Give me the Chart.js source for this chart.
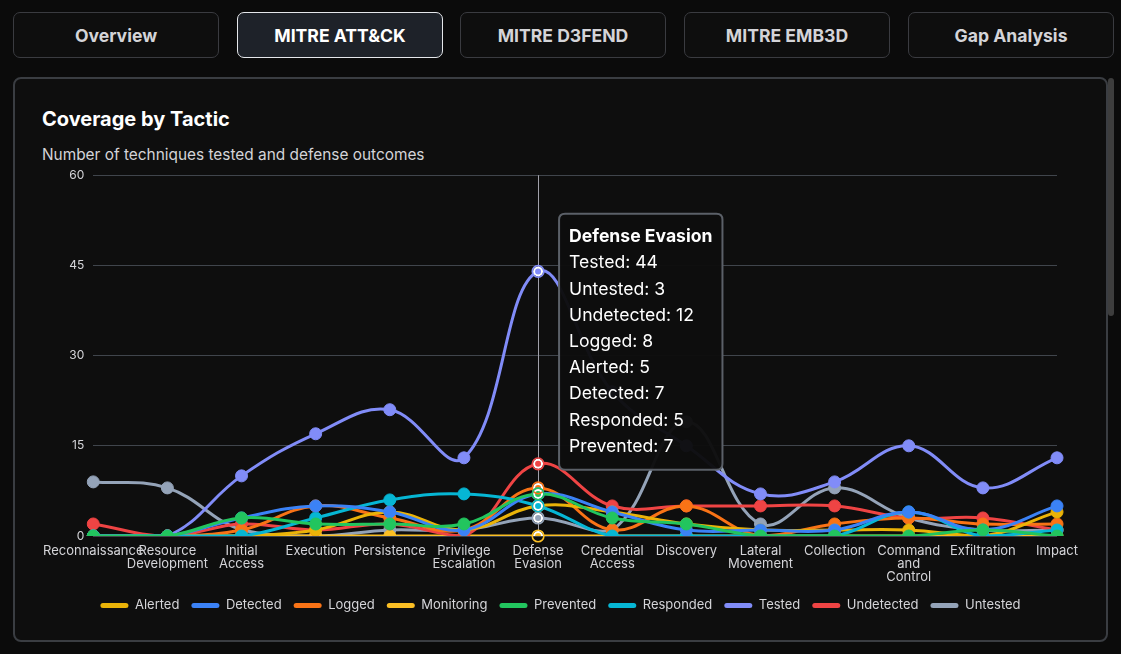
<!DOCTYPE html>
<html><head><meta charset="utf-8">
<script src="https://cdn.jsdelivr.net/npm/chart.js@4.4.1/dist/chart.umd.min.js"></script>
<style>
html,body{margin:0;padding:0;background:#0b0b0b;width:1121px;height:654px;overflow:hidden;font-family:Inter,"Noto Sans",sans-serif;}
.tab{position:absolute;top:12px;height:46px;width:206px;box-sizing:border-box;border:1px solid #3a3b40;border-radius:7px;background:#0e0e0e;color:#d4d4d8;font-weight:700;font-size:17.6px;display:flex;align-items:center;justify-content:center;}
.tab.active{background:#1e2229;border-color:#e5e7eb;color:#ffffff;}
.card{position:absolute;left:13px;top:77px;width:1095px;height:565px;box-sizing:border-box;border:2px solid #3a3d42;border-radius:8px;background:#0e0e0e;}
.title{position:absolute;left:42px;top:107px;color:#ffffff;font-weight:700;font-size:20px;}
.sub{position:absolute;left:42px;top:145px;color:#d4d4d8;font-size:15.4px;}
.thumb{position:absolute;left:1108px;top:78px;width:6px;height:238px;border-radius:3px;background:#3d3d3d;}
#wrap{position:absolute;left:34px;top:159px;width:1053px;height:463px;}
</style></head>
<body>
<div class="tab" style="left:13px">Overview</div>
<div class="tab active" style="left:237px">MITRE ATT&amp;CK</div>
<div class="tab" style="left:460px">MITRE D3FEND</div>
<div class="tab" style="left:684px">MITRE EMB3D</div>
<div class="tab" style="left:908px">Gap Analysis</div>
<div class="card"></div>
<div class="thumb"></div>
<div class="title">Coverage by Tactic</div>
<div class="sub">Number of techniques tested and defense outcomes</div>
<div id="wrap"><canvas id="c"></canvas></div>
<script>
const categories = ["Reconnaissance","Resource Development","Initial Access","Execution","Persistence","Privilege Escalation","Defense Evasion","Credential Access","Discovery","Lateral Movement","Collection","Command and Control","Exfiltration","Impact"];
const tested     = [0, 0, 10, 17, 21, 13, 44, 24, 15, 7, 9, 15, 8, 13];
const untested   = [9, 8, 1, 0, 1, 1, 3, 1, 19, 2, 8, 3, 1, 1];
const undetected = [2, 0, 2, 1, 2, 0, 12, 5, 5, 5, 5, 3, 3, 1];
const logged     = [0, 0, 1, 5, 3, 1, 8, 1, 5, 0, 2, 3, 2, 2];
const alerted    = [0, 0, 0, 1, 4, 1, 5, 4, 2, 1, 1, 1, 0, 4];
const detected   = [0, 0, 3, 5, 4, 1, 7, 4, 1, 1, 1, 4, 1, 5];
const responded  = [0, 0, 0, 3, 6, 7, 5, 0, 0, 0, 0, 4, 0, 1];
const prevented  = [0, 0, 3, 2, 2, 2, 7, 3, 2, 0, 0, 0, 1, 0];
const monitoring = [0, 0, 0, 0, 0, 0, 0, 0, 0, 0, 0, 0, 0, 0];
const yTicks = [0, 15, 30, 45, 60];
const activeCategory = "Defense Evasion";

const seriesDefs = [
  ["Tested", tested, "#818cf8", 3],
  ["Untested", untested, "#94a3b8", 8],
  ["Undetected", undetected, "#ef4444", 6],
  ["Logged", logged, "#f97316", 5],
  ["Alerted", alerted, "#eab308", 4],
  ["Detected", detected, "#3b82f6", 1],
  ["Responded", responded, "#06b6d4", 2],
  ["Prevented", prevented, "#22c55e", 0],
  ["Monitoring", monitoring, "#fbbf24", 7]
];

const datasets = seriesDefs.map(([label, data, color, order]) => ({
  label, data, order,
  borderColor: color, backgroundColor: color,
  borderWidth: 3, tension: 0.4,
  pointRadius: 6, pointBorderWidth: 1, pointBackgroundColor: color, pointBorderColor: color,
  pointHoverRadius: 4, pointHoverBorderWidth: 2, pointHoverBackgroundColor: color, pointHoverBorderColor: "#ffffff"
}));

Chart.Tooltip.positioners.fixedPos = function(elements, eventPosition) {
  if (!elements.length) return false;
  return {x: elements[0].element.x, y: eventPosition ? eventPosition.y : elements[0].element.y};
};

const crosshair = {
  id: "crosshair",
  beforeDatasetsDraw(chart) {
    const act = chart.getActiveElements();
    if (!act.length) return;
    const ctx = chart.ctx, a = chart.chartArea;
    const x = act[0].element.x;
    ctx.save();
    ctx.strokeStyle = "#a1a1aa"; ctx.lineWidth = 1;
    ctx.beginPath(); ctx.moveTo(Math.round(x)+0.5, a.top); ctx.lineTo(Math.round(x)+0.5, a.bottom); ctx.stroke();
    ctx.restore();
  },
  afterDatasetsDraw(chart) {
    const act = chart.getActiveElements();
    const ctx = chart.ctx;
    ctx.save();
    act.slice().sort((p,q)=>chart.data.datasets[q.datasetIndex].order - chart.data.datasets[p.datasetIndex].order).forEach(e => {
      const ds = chart.data.datasets[e.datasetIndex];
      ctx.strokeStyle = ds.borderColor; ctx.lineWidth = 1.6;
      ctx.beginPath(); ctx.arc(e.element.x, e.element.y, 5.8, 0, Math.PI*2); ctx.stroke();
    });
    ctx.restore();
  }
};

const chart = new Chart(document.getElementById("c"), {
  type: "line",
  data: { labels: categories, datasets },
  plugins: [crosshair],
  options: {
    responsive: true, maintainAspectRatio: false, animation: false,
    interaction: { mode: "index", intersect: false },
    scales: {
      x: {
        grid: { display: false, drawTicks: false },
        border: { display: false },
        afterFit: (s) => { s.height -= 6; },
        ticks: { color: "#d4d4d8", font: { family: "Inter", size: 13, lineHeight: 1.0 }, padding: 9, maxRotation: 0, autoSkip: false,
          callback: function(v) { return this.getLabelForValue(v).split(" "); } }
      },
      y: {
        min: 0, max: 60,
        afterBuildTicks: (s) => { s.ticks = yTicks.map(v => ({value: v})); },
        grid: { color: "#40454c", drawTicks: false, lineWidth: 1 },
        border: { display: false },
        ticks: { color: "#d4d4d8", font: { family: "Inter", size: 12 }, padding: 9 }
      }
    },
    plugins: {
      legend: {
        position: "bottom",
        labels: {
          color: "#d4d4d8", font: { family: "Inter", size: 13 },
          boxWidth: 28, boxHeight: 5, useBorderRadius: true, borderRadius: 2.5, padding: 12,
          generateLabels: (c) => Chart.defaults.plugins.legend.labels.generateLabels(c).map(l => Object.assign(l, { lineWidth: 0 })),
          sort: (a, b) => a.text.localeCompare(b.text)
        }
      },
      tooltip: {
        position: "fixedPos",
        backgroundColor: "rgba(13,13,13,0.97)",
        borderColor: "#5b6068", borderWidth: 2, cornerRadius: 6,
        titleColor: "#ffffff", bodyColor: "#ffffff",
        titleFont: { family: "Inter", size: 17.6, weight: "bold" },
        bodyFont: { family: "Inter", size: 17.6 },
        padding: { top: 12.6, bottom: 12.6, left: 10, right: 10 },
        bodySpacing: 5.1, titleMarginBottom: 5,
        caretSize: 0, caretPadding: 21,
        displayColors: false,
        filter: (item) => item.parsed.y > 0,
        itemSort: (a, b) => a.datasetIndex - b.datasetIndex
      }
    }
  }
});

const idx = categories.indexOf(activeCategory);
const active = datasets.map((d, i) => ({ datasetIndex: i, index: idx }));
const yPos = chart.scales.y.getPixelForValue(32.3);
chart.setActiveElements(active);
chart.tooltip.setActiveElements(active, { x: chart.scales.x.getPixelForValue(idx), y: yPos });
chart.update("none");
</script>
</body></html>
